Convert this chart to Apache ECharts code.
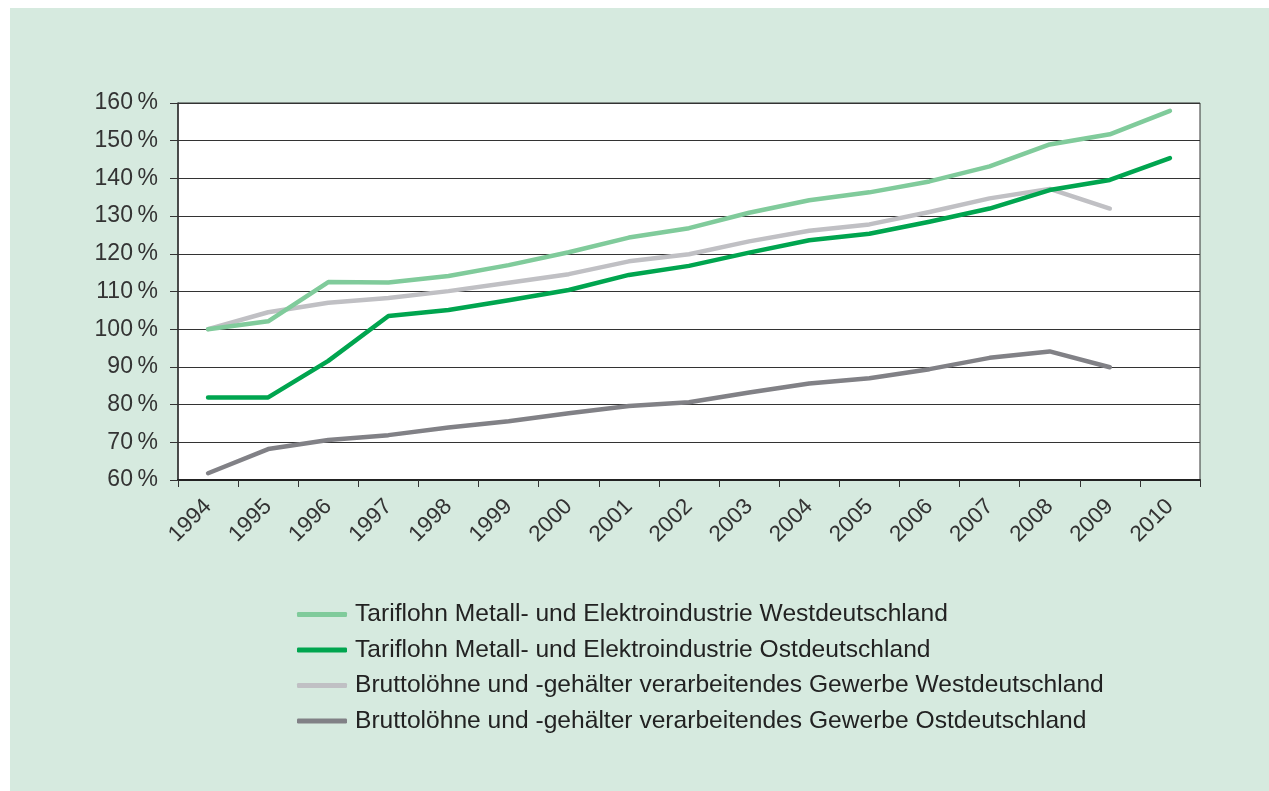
<!DOCTYPE html>
<html><head><meta charset="utf-8">
<script src="https://cdn.jsdelivr.net/npm/echarts@6/dist/echarts.min.js"></script>
<style>html,body{margin:0;padding:0;background:#fff}#c{width:1269px;height:791px}</style>
</head><body><div id="c"></div>
<script>
const years = ['1994','1995','1996','1997','1998','1999','2000','2001','2002','2003','2004','2005','2006','2007','2008','2009','2010'];
const tarifWest = [100,102.1,112.5,112.4,114.1,117,120.4,124.3,126.8,130.9,134.2,136.3,139.2,143.2,149,151.7,157.9];
const tarifOst = [81.9,81.9,91.6,103.5,105.1,107.7,110.4,114.4,116.8,120.3,123.6,125.3,128.5,132,136.9,139.6,145.4];
const bruttoWest = [100,104.5,107,108.3,110.1,112.3,114.6,118,119.9,123.3,126.1,127.8,131.1,134.7,137.2,132];
const bruttoOst = [61.8,68.2,70.6,71.9,73.9,75.6,77.7,79.6,80.6,83.2,85.6,87,89.4,92.4,94.1,89.9];
const names = [
  'Tariflohn Metall- und Elektroindustrie Westdeutschland',
  'Tariflohn Metall- und Elektroindustrie Ostdeutschland',
  'Bruttolöhne und -gehälter verarbeitendes Gewerbe Westdeutschland',
  'Bruttolöhne und -gehälter verarbeitendes Gewerbe Ostdeutschland'
];
const colors = ['#80cb9b','#00a54f','#c0c0c4','#818186'];
const allData = [tarifWest, tarifOst, bruttoWest, bruttoOst];
const font = '"Liberation Sans", Arial, sans-serif';
const chart = echarts.init(document.getElementById('c'));
chart.setOption({
  animation: false,
  backgroundColor: '#ffffff',
  textStyle: {fontFamily: font},
  graphic: [{type:'rect', z:-10, silent:true, shape:{x:10,y:8,width:1259,height:783}, style:{fill:'#d6eadf'}}],
  grid: {left:178, right:69, top:103, bottom:311, show:true, backgroundColor:'#ffffff', borderColor:'#333', borderWidth:1},
  xAxis: {
    type:'category', data: years, boundaryGap:true,
    axisLine:{show:true, lineStyle:{color:'#222', width:2}},
    axisTick:{show:true, length:7, lineStyle:{color:'#333', width:1}},
    axisLabel:{rotate:45, fontSize:22.5, color:'#333', fontFamily:font, margin:23, interval:0},
    splitLine:{show:false}
  },
  yAxis: {
    type:'value', min:60, max:160, interval:10,
    axisLine:{show:true, lineStyle:{color:'#333', width:1.5}},
    axisTick:{show:true, length:8, lineStyle:{color:'#333', width:1}},
    axisLabel:{fontSize:23, color:'#333', fontFamily:font, margin:20, formatter: v => v + '\u2009%'},
    splitLine:{show:true, lineStyle:{color:'#333', width:1}}
  },
  legend: {
    orient:'vertical', left:292, top:597, itemGap:10.5, itemWidth:50, itemHeight:5,
    icon:'roundRect',
    textStyle:{fontSize:24.6, lineHeight:24.6, color:'#222', fontFamily:font, padding:[0,0,0,3]},
    data: names
  },
  series: allData.map((d,i) => ({
    name: names[i], type:'line', data:d, showSymbol:false, symbol:'none',
    lineStyle:{color:colors[i], width:4.5, cap:'round', join:'round'},
    itemStyle:{color:colors[i]}, z: [3,4,2,2][i]
  }))
});
</script></body></html>
